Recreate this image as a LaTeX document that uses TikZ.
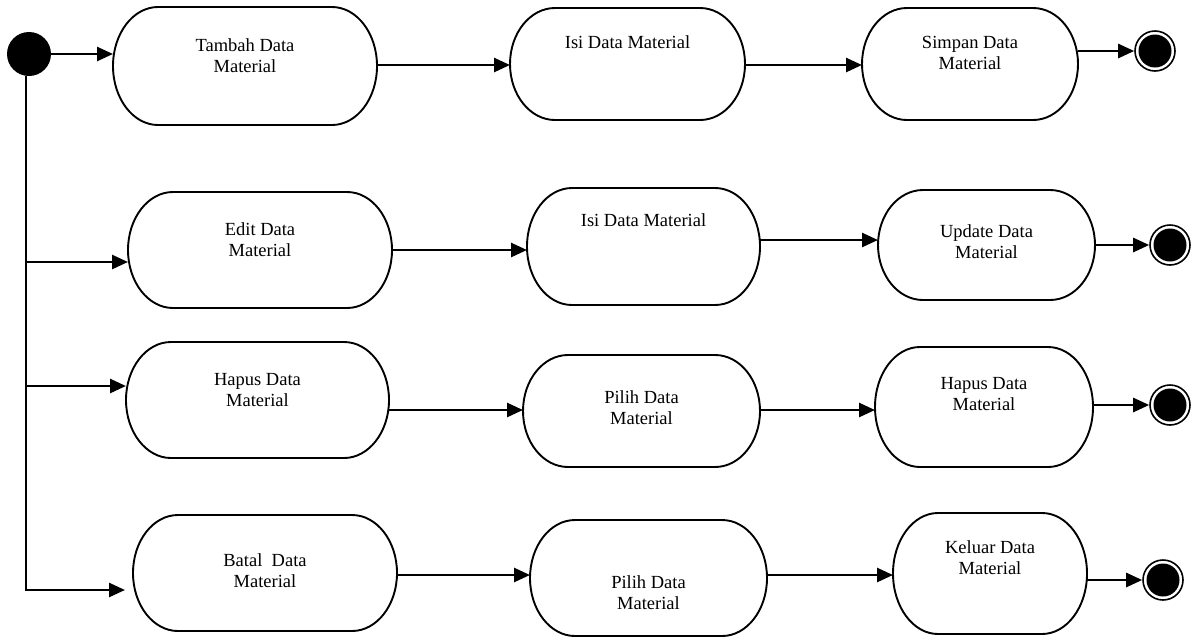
\documentclass[tikz,border=0pt]{standalone}
\usepackage{fontspec}
\setmainfont{Liberation Serif}
\usetikzlibrary{arrows.meta}

\tikzset{
  actarea/.style={rectangle, draw=none, inner sep=0pt, outer sep=0pt},
  actline/.style={line width=1.9pt},
  acttext/.style={align=center, font=\fontsize{18.5pt}{21pt}\selectfont, inner sep=0pt},
  flow/.style={line width=2.6pt, -{Triangle[length=16pt,width=14pt]}},
  startdot/.style={circle, fill=black, minimum size=44pt, inner sep=0pt},
  enddot/.style={circle, draw, line width=1.6pt, minimum size=40pt, inner sep=0pt,
    path picture={\fill (path picture bounding box.center) circle[radius=16.5pt];}},
}

% corner radius of the activity boxes (horizontal)
\def\actrx{45}

% activity box: name, left, top, right, bottom, text, text centre (y measured downwards)
\newcommand\actbox[7]{%
  \pgfmathsetmacro\abW{#4-#2}%
  \pgfmathsetmacro\abH{#5-#3}%
  \pgfmathsetmacro\abX{(#2+#4)/2}%
  \pgfmathsetmacro\abY{-(#3+#5)/2}%
  \pgfmathsetmacro\abR{\abH/2}%
  \node[actarea, minimum width=\abW pt, minimum height=\abH pt] (#1) at (\abX,\abY) {};
  \draw[actline] ([xshift=\actrx pt]#1.north west) -- ([xshift=-\actrx pt]#1.north east)
    arc[start angle=90, end angle=-90, x radius=\actrx pt, y radius=\abR pt]
    -- ([xshift=\actrx pt]#1.south west)
    arc[start angle=270, end angle=90, x radius=\actrx pt, y radius=\abR pt] -- cycle;
  \node[acttext] (#1t) at (\abX,-#7) {#6};
}

% horizontal transition between two nodes at a given height
\newcommand\flowto[3]{\draw[flow] (#1.east |- 0,-#3) -- (#2.west |- 0,-#3);}

\begin{document}
\begin{tikzpicture}[x=1pt,y=1pt]
  \fill[white] (0,0) rectangle (1198,-643);
  \useasboundingbox (0,0) rectangle (1198,-643);

  % row 1: add
  \actbox{a1}{113}{7}{377}{125}{Tambah Data\\Material}{56}
  \actbox{a2}{510}{8}{745}{120}{Isi Data Material}{42}
  \actbox{a3}{862}{8}{1078}{120}{Simpan Data\\Material}{53}
  \node[enddot] (e1) at (1155,-51) {};

  % row 2: edit
  \actbox{b1}{128}{192}{392}{308}{Edit Data\\Material}{240}
  \actbox{b2}{527}{188}{760}{305}{Isi Data Material}{220}
  \actbox{b3}{878}{190}{1095}{300}{Update Data\\Material}{242}
  \node[enddot] (e2) at (1170,-245) {};

  % row 3: delete
  \actbox{c1}{126}{342}{389}{458}{Hapus Data\\Material}{390}
  \actbox{c2}{523}{355}{760}{467}{Pilih Data\\Material}{408}
  \actbox{c3}{875}{347}{1093}{467}{Hapus Data\\Material}{394}
  \node[enddot] (e3) at (1170,-405) {};

  % row 4: cancel
  \actbox{d1}{133}{515}{397}{631}{Batal\ \ Data\\Material}{571}
  \actbox{d2}{530}{520}{767}{636}{Pilih Data\\Material}{593}
  \actbox{d3}{893}{513}{1087}{634}{Keluar Data\\Material}{558}
  \node[enddot] (e4) at (1163,-580) {};

  % initial state and trunk
  \node[startdot] (s) at (29,-54) {};
  \coordinate (tk) at (26,-590);

  \draw[flow] (s.east) -- (a1.west |- s.east);
  \flowto{a1}{a2}{65}
  \flowto{a2}{a3}{65}
  \flowto{a3}{e1}{51}

  \draw[flow] (tk |- 0,-262) -- (b1.west |- 0,-262);
  \flowto{b1}{b2}{250}
  \flowto{b2}{b3}{240}
  \flowto{b3}{e2}{245}

  \draw[flow] (tk |- 0,-386) -- (c1.west |- 0,-386);
  \flowto{c1}{c2}{410}
  \flowto{c2}{c3}{410}
  \flowto{c3}{e3}{405}

  \draw[flow, shorten >=8pt] (s.south -| tk) |- (d1.west |- tk);
  \flowto{d1}{d2}{575}
  \flowto{d2}{d3}{575}
  \flowto{d3}{e4}{580}
\end{tikzpicture}
\end{document}
